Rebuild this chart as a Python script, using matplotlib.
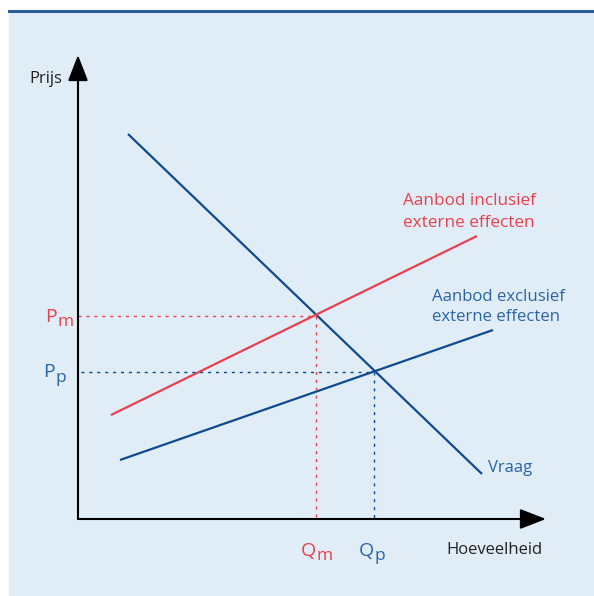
import matplotlib.pyplot as plt
from matplotlib.patches import Rectangle
from matplotlib.lines import Line2D

plt.rcParams['font.family'] = ['Open Sans', 'DejaVu Sans']

# quantities / prices in arbitrary units (origin at the axis cross)
q_vraag = [50, 404]
p_vraag = [385, 45]
q_incl = [33, 399]
p_incl = [104, 283]
q_excl = [42, 415]
p_excl = [59, 189]

q_m, p_m = 238, 203
q_p, p_p = 296, 147

red = '#e8404f'
blue = '#0e4a8e'
lblue = '#2a64a8'
bg = '#e0edf6'

W, H = 594, 596
fig = plt.figure(figsize=(W / 100, H / 100), dpi=100)
fig.patch.set_facecolor('white')
fig.patches.append(Rectangle((9 / W, 0), 1 - 9 / W, (H - 11) / H,
                             transform=fig.transFigure, color=bg, zorder=-10))
fig.lines.append(Line2D([9 / W, 1], [(H - 11) / H] * 2, transform=fig.transFigure,
                        color='#2a5c9a', lw=2.2, zorder=-9))

x0, y0 = 78, 519
xend, ytop = 546, 55
ax = fig.add_axes([x0 / W, (H - y0) / H, (xend - x0) / W, (y0 - ytop) / H])
ax.set_xlim(0, xend - x0)
ax.set_ylim(0, y0 - ytop)
ax.axis('off')
ax.patch.set_alpha(0)

arrow = dict(arrowstyle='-|>,head_length=1.6,head_width=0.62', color='black',
             lw=1.5, mutation_scale=10, shrinkA=0, shrinkB=0)
ax.annotate('', xy=(0, y0 - ytop), xytext=(0, 0), arrowprops=arrow,
            annotation_clip=False)
ax.annotate('', xy=(xend - x0, 0), xytext=(0, 0), arrowprops=arrow,
            annotation_clip=False)

ax.plot(q_vraag, p_vraag, color=blue, lw=1.6, solid_capstyle='butt')
ax.plot(q_incl, p_incl, color=red, lw=1.6, solid_capstyle='butt')
ax.plot(q_excl, p_excl, color=blue, lw=1.6, solid_capstyle='butt')

dots = (0, (2.2, 3.5))
ax.plot([0, q_m], [p_m, p_m], color=red, lw=1, ls=dots)
ax.plot([q_m, q_m], [p_m, 0], color=red, lw=1, ls=dots)
ax.plot([-5, q_p], [p_p, p_p], color=blue, lw=1, ls=dots)
ax.plot([q_p, q_p], [p_p, 0], color=blue, lw=1, ls=dots)

fs = 12.3


def sublabel(x, y, main, sub, color):
    # main letter ends at x (baseline y), subscript starts there a bit lower
    ax.text(x, y, main, ha='right', va='baseline', fontsize=14, color=color,
            clip_on=False)
    ax.text(x + 0.5, y - 4.5, sub, ha='left', va='baseline', fontsize=12.5,
            color=color, clip_on=False)


ax.text(-16, y0 - 79, 'Prijs', ha='right', va='center', fontsize=12, color='#222222')
sublabel(57 - x0, y0 - 322, 'P', 'm', red)
sublabel(55 - x0, y0 - 377, 'P', 'p', lblue)
sublabel(q_m, y0 - 556, 'Q', 'm', red)
sublabel(q_p, y0 - 556, 'Q', 'p', lblue)
ax.text(xend - x0 - 3, -31, 'Hoeveelheid', ha='right', va='center', fontsize=12, color='#222222')

ax.text(403 - x0, y0 - 212, 'Aanbod inclusief\nexterne effecten', ha='left', va='center',
        fontsize=fs, color=red, linespacing=1.45)
ax.text(432 - x0, y0 - 307, 'Aanbod exclusief\nexterne effecten', ha='left', va='center',
        fontsize=12.1, color=lblue, linespacing=1.35)
ax.text(488 - x0, y0 - 468, 'Vraag', ha='left', va='center', fontsize=12, color=lblue)

fig.savefig('out.png', dpi=100)
